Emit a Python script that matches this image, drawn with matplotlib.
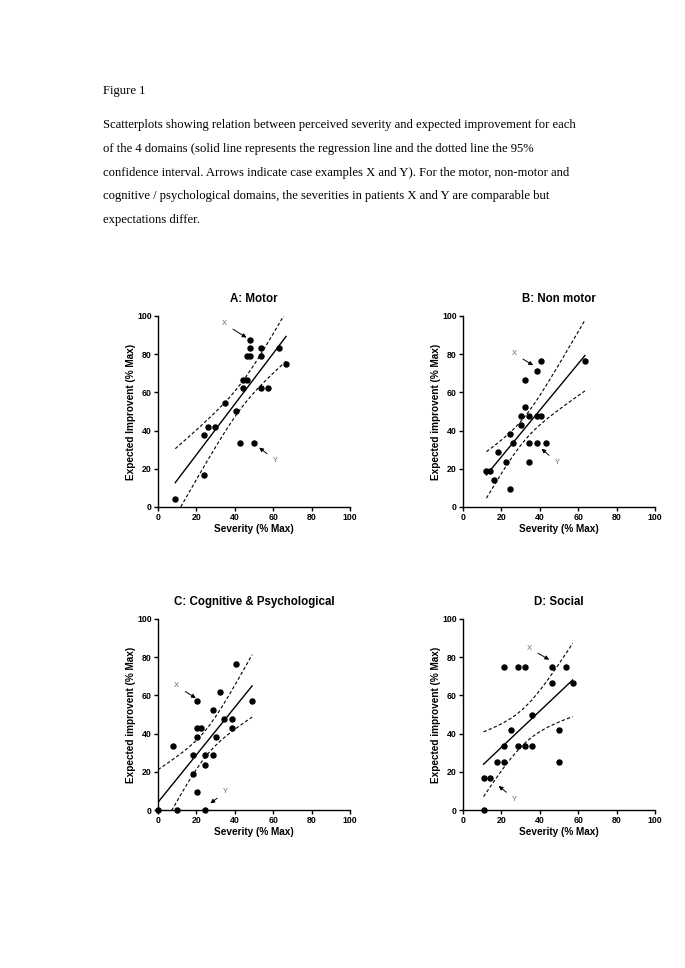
import numpy as np
import matplotlib
matplotlib.use("Agg")
import matplotlib.pyplot as plt

plt.rcParams['font.family'] = ['Liberation Sans', 'DejaVu Sans']

# data (severity % max, expected improvement % max)
motor_x = [9, 24, 26, 24, 29.5, 35, 40.5, 42.5, 50, 44.3, 44.5, 46.3, 46.3, 48, 48, 48,
           53.7, 53.7, 53.7, 57.2, 63, 66.7]
motor_y = [4.2, 37.5, 41.7, 16.7, 41.7, 54.2, 50, 33.3, 33.3, 62.5, 66.7, 66.7, 79.2, 79.2, 87.5, 83.3,
           83.3, 79.2, 62.5, 62.5, 83.3, 75]

nonmotor_x = [12.2, 14.1, 16.3, 18.3, 22.3, 24.3, 24.3, 26.3, 30.4, 30.4, 32.5, 32.5, 34.6, 34.6,
              34.6, 38.8, 38.8, 38.8, 40.7, 40.7, 43, 63.5]
nonmotor_y = [19, 19, 14.3, 28.6, 23.8, 38.1, 9.5, 33.3, 42.9, 47.6, 52.4, 66.7, 47.6, 33.3,
              23.8, 71.4, 47.6, 33.3, 76.2, 47.6, 33.3, 76.2]

cog_x = [0, 8, 10, 18.3, 18.3, 20.3, 20.3, 20.3, 20.3, 22.3, 24.3, 24.3, 24.3, 28.5, 28.5,
         30.4, 32.5, 34.6, 38.8, 38.8, 40.7, 49]
cog_y = [0, 33.3, 0, 28.6, 19, 57.1, 42.9, 38.1, 9.5, 42.9, 28.6, 23.8, 0, 52.4, 28.6,
         38.1, 61.9, 47.6, 47.6, 42.9, 76.2, 57.1]

social_x = [10.7, 10.7, 14.3, 17.9, 21.4, 21.4, 21.4, 25, 28.6, 28.6, 32.1, 32.1, 35.7, 35.7,
            46.4, 46.4, 50, 50, 53.6, 57.1]
social_y = [16.7, 0, 16.7, 25, 75, 33.3, 25, 41.7, 75, 33.3, 75, 33.3, 33.3, 50,
            75, 66.7, 41.7, 25, 75, 66.7]

titles = ["A: Motor", "B: Non motor", "C: Cognitive & Psychological", "D: Social"]
ylabels = ["Expected Improvent (% Max)", "Expected improvent (% Max)",
           "Expected improvent (% Max)", "Expected improvent (% Max)"]
# case examples: (label text pos, arrow head pos) for X and Y
x_arrows = [((34.4, 96), (46.1, 88.7)), ((26.6, 80.3), (36.5, 74.2)),
            ((9.6, 65), (19.7, 58.6)), ((34.4, 84.8), (44.9, 78.7))]
y_arrows = [((61.2, 24.4), (52.7, 31.1)), ((49.2, 23.2), (40.9, 30.5)),
            ((35.3, 9.6), (27.3, 3.5)), ((27, 5.6), (18.6, 12.6))]

caption = ["Scatterplots showing relation between perceived severity and expected improvement for each",
           "of the 4 domains (solid line represents the regression line and the dotted line the 95%",
           "confidence interval. Arrows indicate case examples X and Y). For the motor, non-motor and",
           "cognitive / psychological domains, the severities in patients X and Y are comparable but",
           "expectations differ."]

T975 = {20: 2.086, 18: 2.101}


def panel(ax, xs, ys, title, ylab, xa, ya):
    x = np.array(xs, dtype=float)
    y = np.array(ys, dtype=float)
    n = len(x)
    b, a = np.polyfit(x, y, 1)
    xx = np.linspace(x.min(), x.max(), 200)
    yy = a + b * xx
    res = y - (a + b * x)
    s = np.sqrt(np.sum(res ** 2) / (n - 2))
    sxx = np.sum((x - x.mean()) ** 2)
    t = T975.get(n - 2, 2.09)
    half = t * s * np.sqrt(1.0 / n + (xx - x.mean()) ** 2 / sxx)
    ax.plot(xx, yy, color='black', lw=1.0)
    ax.plot(xx, yy + half, color='black', lw=0.8, ls=(0, (3, 2)))
    ax.plot(xx, yy - half, color='black', lw=0.8, ls=(0, (3, 2)))
    ax.scatter(x, y, s=13, color='black', zorder=3, clip_on=False)

    for (lab, pos) in (("X", xa), ("Y", ya)):
        ax.annotate(lab, xy=pos[1], xytext=pos[0], ha='center', va='center',
                    fontsize=5.5, color='#666666',
                    arrowprops=dict(arrowstyle='-|>', color='black', lw=0.7,
                                    mutation_scale=6, shrinkA=3, shrinkB=0))

    ax.set_xlim(0, 100)
    ax.set_ylim(0, 100)
    ax.set_xticks(range(0, 101, 20))
    ax.set_yticks(range(0, 101, 20))
    ax.spines['top'].set_visible(False)
    ax.spines['right'].set_visible(False)
    ax.spines['left'].set_linewidth(1.0)
    ax.spines['bottom'].set_linewidth(1.0)
    ax.tick_params(length=3, width=1.0, labelsize=6.3, pad=1.5)
    for lb in ax.get_xticklabels() + ax.get_yticklabels():
        lb.set_fontweight('bold')
    ax.set_title(title, fontsize=8.3, fontweight='bold', pad=10)
    ax.set_xlabel("Severity (% Max)", fontsize=7.2, fontweight='bold', labelpad=1)
    ax.set_ylabel(ylab, fontsize=7.2, fontweight='bold', labelpad=1)


fig = plt.figure(figsize=(6.85, 9.68), dpi=100)

fig.text(103 / 685, 1 - 91 / 968, "Figure 1", family='Liberation Serif', fontsize=9.1, va='center')
for i, line in enumerate(caption):
    fig.text(103 / 685, 1 - (125 + i * 23.8) / 968, line, family='Liberation Serif',
             fontsize=9.1, va='center')

w = 192 / 685
h = 191 / 968
lefts = [158 / 685, 463 / 685]
bottoms = [1 - 507 / 968, 1 - 810 / 968]
data = [(motor_x, motor_y), (nonmotor_x, nonmotor_y), (cog_x, cog_y), (social_x, social_y)]

for i in range(4):
    ax = fig.add_axes([lefts[i % 2], bottoms[i // 2], w, h])
    panel(ax, data[i][0], data[i][1], titles[i], ylabels[i], x_arrows[i], y_arrows[i])

fig.savefig("out.png", dpi=100)
